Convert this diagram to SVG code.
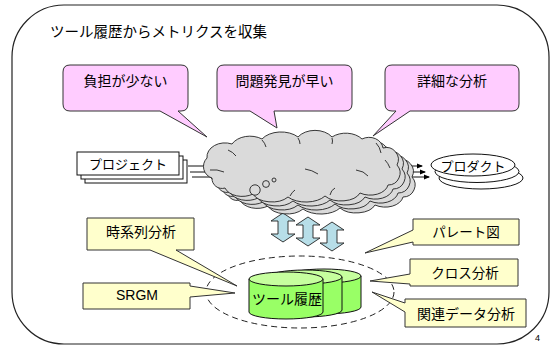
<svg xmlns="http://www.w3.org/2000/svg" xmlns:xlink="http://www.w3.org/1999/xlink" width="555" height="359" viewBox="0 0 555 359">
  <style>
    .jp { font-family: "Noto Sans CJK JP", "Noto Sans", sans-serif; fill: #000; }
    .lat { font-family: "Liberation Sans", Arial, sans-serif; fill: #000; }
    .pink { fill: #FFCCFF; stroke: #333; stroke-width: 1; }
    .note { fill: #FFFFCC; stroke: #333; stroke-width: 1; }
    .cloud { fill: #DADADA; stroke: #222; stroke-width: 0.9; }
    .wire { fill: none; stroke: #111; stroke-width: 1; }
    .sheet { fill: #fff; stroke: #111; stroke-width: 1; }
    .dual { fill: #B7DEE8; stroke: #222; stroke-width: 0.9; }
    .body { fill: #99FF66; stroke: #111; stroke-width: 1; }
    .lid { fill: #C6FF9E; stroke: #111; stroke-width: 1; }
  </style>
  <defs>
    <marker id="tip" markerWidth="6" markerHeight="6" refX="5" refY="3" orient="auto" markerUnits="userSpaceOnUse">
      <path d="M0,0.5 L6,3 L0,5.5 Z" fill="#000"/>
    </marker>
    <path id="cloudShape" d="M 212,178 A 12 12 0 0 1 207,158 A 18 14 0 0 1 232,144 A 20 14 0 0 1 262,139 A 22 14 0 0 1 298,137 A 20 14 0 0 1 332,137 A 20 14 0 0 1 362,139 A 14 12 0 0 1 383,148 A 12 12 0 0 1 397,165 A 12 12 0 0 1 388,185 A 18 12 0 0 1 360,193 A 20 12 0 0 1 325,196 A 22 12 0 0 1 288,197 A 20 12 0 0 1 253,194 A 18 12 0 0 1 225,188 A 10 10 0 0 1 212,178 Z"/>
    <path id="twoWay" d="M12,0 L24,8 L17,8 L17,21 L24,21 L12,29 L0,21 L7,21 L7,8 L0,8 Z"/>
  </defs>

  <!-- outer frame -->
  <rect x="12" y="5" width="537" height="339" rx="52" ry="52" fill="#fff" stroke="#222" stroke-width="1.2"/>
  <text class="jp" x="50" y="37" font-size="14.5">ツール履歴からメトリクスを収集</text>

  <!-- connectors -->
  <g id="connectors">
    <!-- project feed into the cloud -->
    <line class="wire" x1="188" y1="166" x2="220" y2="166"/>
    <line class="wire" x1="190" y1="172" x2="222" y2="172"/>
    <line class="wire" x1="192" y1="177" x2="224" y2="177"/>
    <!-- cloud output to product -->
    <line class="wire" x1="400" y1="166" x2="422" y2="166" marker-end="url(#tip)"/>
    <line class="wire" x1="404" y1="172" x2="425" y2="172" marker-end="url(#tip)"/>
    <line class="wire" x1="408" y1="177" x2="429" y2="177" marker-end="url(#tip)"/>
    <!-- two-way exchange between cloud and repository -->
    <use href="#twoWay" xlink:href="#twoWay" class="dual" transform="translate(271,213)"/>
    <use href="#twoWay" xlink:href="#twoWay" class="dual" transform="translate(296,217)"/>
    <use href="#twoWay" xlink:href="#twoWay" class="dual" transform="translate(320,222)"/>
  </g>

  <!-- benefit callouts -->
  <g id="callout-load">
    <path class="pink" d="M 70,65 H 181 Q 188,65 188,72 V 104 Q 188,111 181,111 H 178 L 207,137 L 160,111 H 70 Q 63,111 63,104 V 72 Q 63,65 70,65 Z"/>
    <text class="jp" x="125.5" y="86" font-size="14" text-anchor="middle">負担が少ない</text>
  </g>
  <g id="callout-early">
    <path class="pink" d="M 224,65 H 345 Q 352,65 352,72 V 104 Q 352,111 345,111 H 274 L 277,128 L 250,111 H 224 Q 217,111 217,104 V 72 Q 217,65 224,65 Z"/>
    <text class="jp" x="284.5" y="86" font-size="14" text-anchor="middle">問題発見が早い</text>
  </g>
  <g id="callout-detail">
    <path class="pink" d="M 392,65 H 512 Q 519,65 519,72 V 104 Q 519,111 512,111 H 410 L 373,136 L 396,111 H 392 Q 385,111 385,104 V 72 Q 385,65 392,65 Z"/>
    <text class="jp" x="452" y="86" font-size="14" text-anchor="middle">詳細な分析</text>
  </g>

  <!-- projects -->
  <g id="projects">
    <rect class="sheet" x="85" y="160" width="102" height="23"/>
    <rect class="sheet" x="81" y="156" width="102" height="23"/>
    <rect class="sheet" x="77" y="152" width="102" height="23"/>
    <text class="jp" x="128" y="168.5" font-size="13" text-anchor="middle">プロジェクト</text>
  </g>

  <!-- tool cloud -->
  <g id="cloud">
    <use href="#cloudShape" xlink:href="#cloudShape" class="cloud" transform="translate(15,12)"/>
    <use href="#cloudShape" xlink:href="#cloudShape" class="cloud" transform="translate(10,8)"/>
    <use href="#cloudShape" xlink:href="#cloudShape" class="cloud" transform="translate(5,4)"/>
    <use href="#cloudShape" xlink:href="#cloudShape" class="cloud"/>
    <g fill="none" stroke="#222" stroke-width="0.9">
      <path d="M 210,170 Q 217,169 224,172"/>
      <path d="M 228,150 Q 233,152 236,156"/>
      <path d="M 262,140 Q 265,143 266,147"/>
      <path d="M 298,138 Q 300,141 300,144"/>
      <path d="M 332,138 Q 333,141 332,144"/>
      <path d="M 376,143 Q 380,147 381,153"/>
      <path d="M 385,160 Q 388,163 390,168"/>
      <path d="M 356,170 Q 364,171 368,176"/>
      <path d="M 305,169 Q 312,170 318,174"/>
      <path d="M 290,196 Q 292,192 295,190"/>
      <path d="M 330,195 Q 331,190 335,188"/>
    </g>
    <circle cx="255" cy="190" r="5.2" fill="#DADADA" stroke="#222" stroke-width="0.9"/>
    <circle cx="266" cy="184" r="3.4" fill="#DADADA" stroke="#222" stroke-width="0.9"/>
    <circle cx="274" cy="180" r="2" fill="#DADADA" stroke="#222" stroke-width="0.9"/>
  </g>

  <!-- products -->
  <g id="products">
    <ellipse class="sheet" cx="481" cy="178" rx="42" ry="11"/>
    <ellipse class="sheet" cx="477" cy="171.5" rx="42" ry="11"/>
    <ellipse class="sheet" cx="473" cy="165" rx="42" ry="11"/>
    <text class="jp" x="473" y="170.5" font-size="13" text-anchor="middle">プロダクト</text>
  </g>

  <!-- tool history repository -->
  <g id="history">
    <ellipse cx="300" cy="292" rx="94" ry="36" fill="none" stroke="#222" stroke-width="1" stroke-dasharray="6,4"/>
    <path class="body" d="M 287,276 V 307 A 37 7 0 0 0 361,307 V 276 Z"/>
    <ellipse class="lid" cx="324" cy="276" rx="37" ry="7"/>
    <path class="body" d="M 268,277 V 310 A 37 7 0 0 0 342,310 V 277 Z"/>
    <ellipse class="lid" cx="305" cy="277" rx="37" ry="7"/>
    <path class="body" d="M 249,279 V 312 A 37 7 0 0 0 323,312 V 279 Z"/>
    <ellipse class="lid" cx="286" cy="279" rx="37" ry="7"/>
    <text class="jp" x="287" y="304" font-size="14" text-anchor="middle">ツール履歴</text>
  </g>

  <!-- analysis notes -->
  <g id="note-timeseries">
    <path class="note" d="M 87,218 H 194 V 250 H 176 L 237,286 L 150,250 H 87 Z"/>
    <text class="jp" x="141" y="237" font-size="14" text-anchor="middle">時系列分析</text>
  </g>
  <g id="note-srgm">
    <path class="note" d="M 83,283 H 190 V 286 L 235,293 L 190,297 V 309 H 83 Z"/>
    <text class="lat" x="137" y="300" font-size="14" text-anchor="middle">SRGM</text>
  </g>
  <g id="note-pareto">
    <path class="note" d="M 413,219 H 519 V 245 H 413 V 242 L 365,253 L 413,230 Z"/>
    <text class="jp" x="466" y="237" font-size="13.5" text-anchor="middle">パレート図</text>
  </g>
  <g id="note-cross">
    <path class="note" d="M 410,259 H 518 V 286 H 410 V 284 L 370,281 L 410,274 Z"/>
    <text class="jp" x="465" y="278" font-size="13.5" text-anchor="middle">クロス分析</text>
  </g>
  <g id="note-related">
    <path class="note" d="M 405,299 H 526 V 327 H 405 V 312 L 372,292 L 405,303 Z"/>
    <text class="jp" x="466" y="319" font-size="14" text-anchor="middle">関連データ分析</text>
  </g>

  <text class="lat" x="535" y="341" font-size="9">4</text>
</svg>
